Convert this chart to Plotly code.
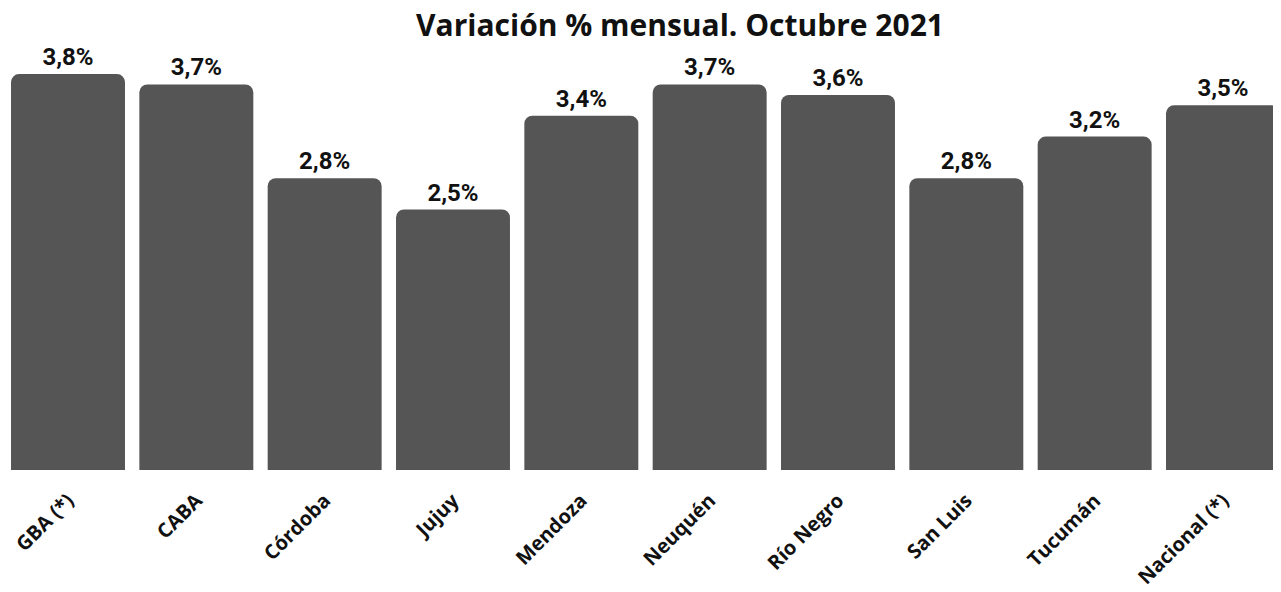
import plotly.graph_objects as go

categories = ["GBA (*)", "CABA", "Córdoba", "Jujuy", "Mendoza", "Neuquén",
              "Río Negro", "San Luis", "Tucumán", "Nacional (*)"]
values = [3.8, 3.7, 2.8, 2.5, 3.4, 3.7, 3.6, 2.8, 3.2, 3.5]
labels = [f"{v:.1f}%".replace(".", ",") for v in values]

W, H = 1273, 584  # page body has 8px margin

fig = go.Figure(go.Bar(
    x=categories, y=values, text=labels, textposition="outside",
    textfont=dict(family="Roboto", size=24, color="#111111", weight="bold"),
    marker=dict(color="#555555", line=dict(width=0), cornerradius=8),
    cliponaxis=False,
))

fig.update_layout(
    width=W, height=H,
    margin=dict(l=0, r=0, t=32, b=122),
    paper_bgcolor="white", plot_bgcolor="white",
    bargap=0.112,
    showlegend=False,
    title=dict(text="<b>Variación % mensual. Octubre 2021</b>",
               x=672/W, xanchor="center", y=1 - 17/H, yanchor="middle",
               font=dict(family="Open Sans", size=30, color="#111111")),
)
fig.update_xaxes(range=[-0.4675, 9.452], tickangle=-45, showgrid=False, showline=False,
                 ticks="", automargin=False, ticklabelstandoff=14,
                 tickfont=dict(family="Open Sans", size=20, color="#111111", weight="bold"))
fig.update_yaxes(range=[0, 4.127], visible=False, showgrid=False)

fig.write_html("out.html")
